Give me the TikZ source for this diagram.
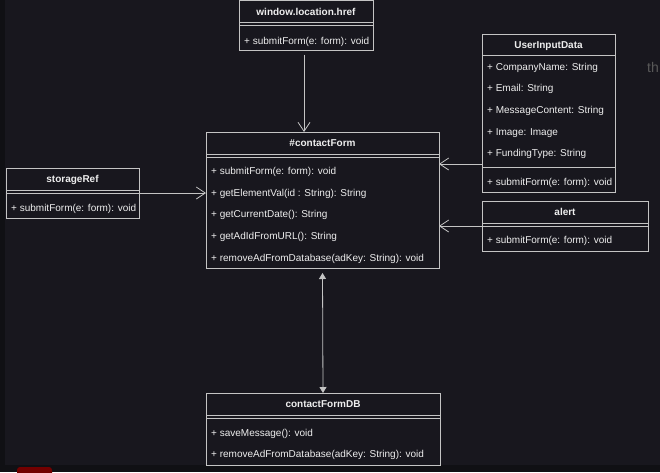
\documentclass[tikz,border=0pt]{standalone}
\usepackage{fontspec}
\setmainfont{Liberation Sans}
\usetikzlibrary{positioning}
\usetikzlibrary{arrows.meta}
\usetikzlibrary{calc}

\definecolor{canvas}{HTML}{18171E}
\definecolor{edge}{HTML}{C4C4C4}
\definecolor{ink}{HTML}{EEEEEE}
\definecolor{panel}{HTML}{101014}

\begin{document}
\begin{tikzpicture}[x=1pt,y=-1pt,
    classbox/.style={draw=edge, line width=0.8pt, anchor=north west, inner sep=0pt, outer sep=0pt},
    title/.style={text=ink, font=\fontsize{10}{12}\selectfont\bfseries, inner sep=0pt, text height=7pt, text depth=0pt},
    member/.style={text=ink, font=\fontsize{10}{12}\selectfont, anchor=west, inner sep=0pt, text height=7pt, text depth=0pt},
    sep/.style={draw=edge, line width=0.8pt},
    assoc/.style={draw=edge, line width=0.8pt, -{Straight Barb[length=9pt,width=12pt]}},
    both/.style={draw=edge, line width=0.8pt, {Triangle[length=6pt,width=7pt]}-{Triangle[length=6pt,width=7pt]}}]
			% Background of the screenshot
			\useasboundingbox (0,0) rectangle (660,472);
			\fill[canvas] (0,0) rectangle (660,472);
			\fill[panel] (0,0) rectangle (5,472);
			\fill[panel] (0,465) rectangle (660,472);
			\fill[red!45!black, rounded corners=3pt] (17,467) rectangle (52,476);
			\node[text=gray!70!black, font=\fontsize{14}{14}\selectfont, anchor=west, inner sep=0pt] (cutText) at (647,67) {th};

			% Define the class boxes
			\node[classbox, minimum width=134pt, minimum height=50pt] (window) at (239,0.5) {};
			\node[classbox, minimum width=233pt, minimum height=136pt] (contactForm) at (206,132) {};
			\node[classbox, minimum width=133pt, minimum height=50pt] (storageRef) at (6,168) {};
			\node[classbox, minimum width=133pt, minimum height=158pt] (userInput) at (482,34) {};
			\node[classbox, minimum width=166pt, minimum height=50pt] (alert) at (482,201) {};
			\node[classbox, minimum width=234pt, minimum height=72pt] (contactFormDB) at (206,393) {};

			% Titles
			\node[title] (windowT) at ($(window.north)+(0,11)$) {window.location.href};
			\node[title] (contactFormT) at ($(contactForm.north)+(0,11)$) {\#contactForm};
			\node[title] (storageRefT) at ($(storageRef.north)+(0,11)$) {storageRef};
			\node[title] (userInputT) at ($(userInput.north)+(0,11)$) {UserInputData};
			\node[title] (alertT) at ($(alert.north)+(0,11)$) {alert};
			\node[title] (contactFormDBT) at ($(contactFormDB.north)+(0,11)$) {contactFormDB};

			% Draw the separators
			\foreach \cls in {window, contactForm, storageRef, alert, contactFormDB}
			\draw[sep] ($(\cls.north west)+(0,22)$) -- ($(\cls.north east)+(0,22)$)
			           ($(\cls.north west)+(0,25)$) -- ($(\cls.north east)+(0,25)$);
			\draw[sep] ($(userInput.north west)+(0,21)$) -- ($(userInput.north east)+(0,21)$);
			\draw[sep] ($(userInput.north west)+(0,133)$) -- ($(userInput.north east)+(0,133)$);

			% Members
			\node[member] (window-m1) at ($(window.north west)+(5,40)$) {+ submitForm(e: form): void};
			\foreach \i/\dy/\txt in {1/39/{+ submitForm(e: form): void}, 2/61/{+ getElementVal(id : String): String}, 3/82/{+ getCurrentDate(): String}, 4/104/{+ getAdIdFromURL(): String}, 5/126/{+ removeAdFromDatabase(adKey: String): void}}
			\node[member] (contactForm-m\i) at ($(contactForm.north west)+(5,\dy)$) {\txt};
			\node[member] (storageRef-m1) at ($(storageRef.north west)+(5,40)$) {+ submitForm(e: form): void};
			\foreach \i/\dy/\txt in {1/33/{+ CompanyName: String}, 2/54/{+ Email: String}, 3/76/{+ MessageContent: String}, 4/98/{+ Image: Image}, 5/119/{+ FundingType: String}, 6/148/{+ submitForm(e: form): void}}
			\node[member] (userInput-m\i) at ($(userInput.north west)+(5,\dy)$) {\txt};
			\node[member] (alert-m1) at ($(alert.north west)+(5,39)$) {+ submitForm(e: form): void};
			\node[member] (contactFormDB-m1) at ($(contactFormDB.north west)+(5,40)$) {+ saveMessage(): void};
			\node[member] (contactFormDB-m2) at ($(contactFormDB.north west)+(5,61)$) {+ removeAdFromDatabase(adKey: String): void};

			% Draw the connectors
			\coordinate (windowOut) at ($(window.south)+(-2,4)$);
			\draw[assoc] (windowOut) -- (windowOut |- contactForm.north);
			\draw[assoc] (storageRef.east) -- (storageRef.east -| contactForm.west);
			\coordinate (userInputOut) at ($(userInput.south west)+(0,-28)$);
			\draw[assoc] (userInputOut) -- (userInputOut -| contactForm.east);
			\draw[assoc] (alert.west) -- (alert.west -| contactForm.east);
			\draw[both] ($(contactForm.south)+(0,5)$) -- (contactFormDB.north);
\end{tikzpicture}
\end{document}
